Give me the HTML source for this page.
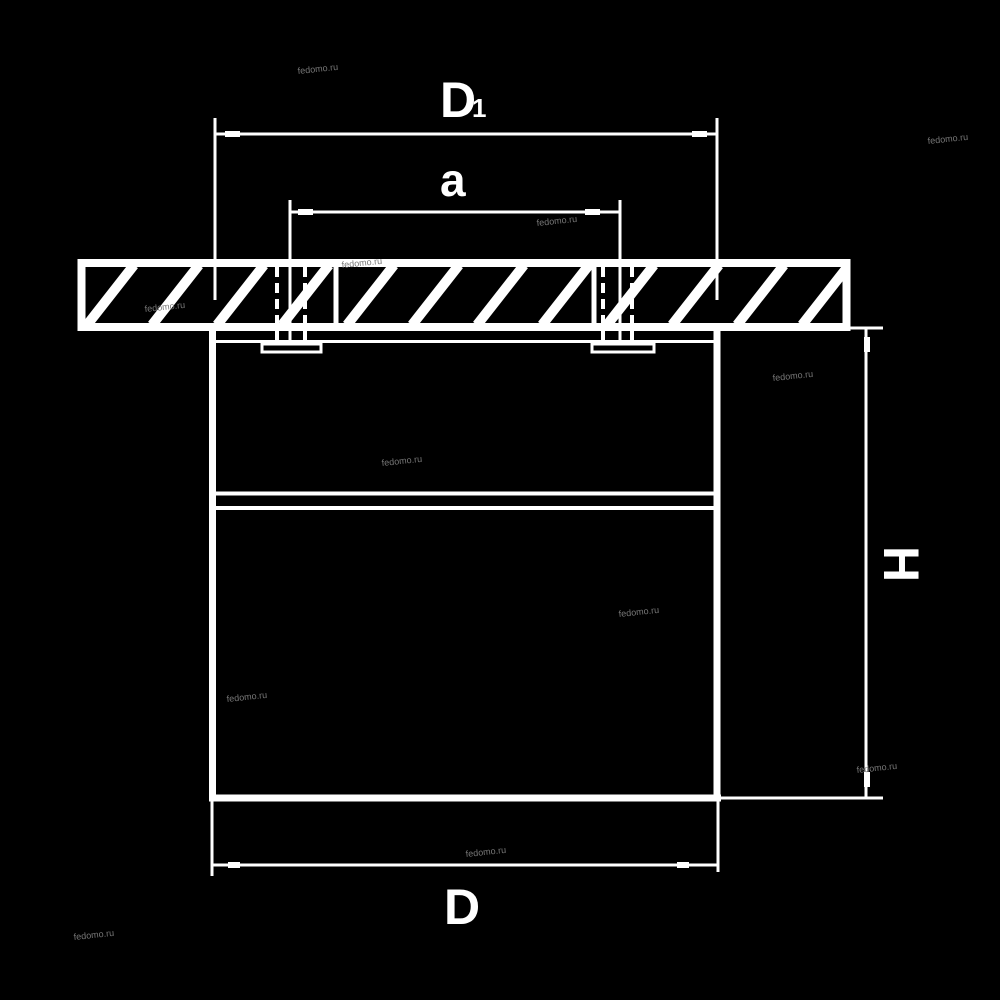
<!DOCTYPE html>
<html><head><meta charset="utf-8"><style>html,body{margin:0;padding:0;background:#000}svg{display:block}</style></head><body>
<svg width="1000" height="1000" viewBox="0 0 1000 1000" xmlns="http://www.w3.org/2000/svg">
<rect width="1000" height="1000" fill="#000"/>
<defs><clipPath id="pl"><rect x="85" y="267" width="758" height="56"/></clipPath></defs>
<g stroke="#fff" fill="none">
<rect x="81.5" y="263" width="765" height="64" stroke-width="8"/>
<g clip-path="url(#pl)" stroke-width="10">
<line x1="87" y1="325" x2="134" y2="265"/><line x1="152" y1="325" x2="199" y2="265"/>
<line x1="217" y1="325" x2="264" y2="265"/><line x1="282" y1="325" x2="329" y2="265"/>
<line x1="347" y1="325" x2="394" y2="265"/><line x1="412" y1="325" x2="459" y2="265"/>
<line x1="477" y1="325" x2="524" y2="265"/><line x1="542" y1="325" x2="589" y2="265"/>
<line x1="607" y1="325" x2="654" y2="265"/><line x1="672" y1="325" x2="719" y2="265"/>
<line x1="737" y1="325" x2="784" y2="265"/><line x1="802" y1="325" x2="849" y2="265"/>
</g>
<line x1="336" y1="267" x2="336" y2="323" stroke-width="5"/>
<line x1="594" y1="267" x2="594" y2="323" stroke-width="5"/>
<g stroke-width="4" stroke-dasharray="10,6">
<line x1="277" y1="267" x2="277" y2="345"/><line x1="305" y1="267" x2="305" y2="345"/>
<line x1="603" y1="267" x2="603" y2="345"/><line x1="632" y1="267" x2="632" y2="345"/>
</g>
<rect x="262" y="344" width="59" height="8" stroke-width="3"/>
<rect x="592" y="344" width="62" height="8" stroke-width="3"/>
<line x1="212.5" y1="330" x2="212.5" y2="800" stroke-width="7"/>
<line x1="717" y1="330" x2="717" y2="800" stroke-width="7"/>
<line x1="209" y1="798" x2="721" y2="798" stroke-width="7"/>
<line x1="216" y1="341.5" x2="714" y2="341.5" stroke-width="3"/>
<line x1="216" y1="493.5" x2="714" y2="493.5" stroke-width="4"/>
<line x1="216" y1="508" x2="714" y2="508" stroke-width="4"/>
<g stroke-width="3">
<line x1="215" y1="118" x2="215" y2="300"/><line x1="717" y1="118" x2="717" y2="300"/>
<line x1="215" y1="134" x2="717" y2="134"/>
<line x1="290" y1="200" x2="290" y2="340"/><line x1="620" y1="200" x2="620" y2="345"/>
<line x1="290" y1="212" x2="620" y2="212"/>
<line x1="212" y1="800" x2="212" y2="876"/><line x1="718" y1="800" x2="718" y2="872"/>
<line x1="212" y1="865" x2="718" y2="865"/>
<line x1="866" y1="328" x2="866" y2="798"/>
<line x1="850" y1="328" x2="883" y2="328"/><line x1="720" y1="798" x2="883" y2="798"/>
</g>
<g stroke-width="6">
<line x1="225" y1="134" x2="240" y2="134"/><line x1="692" y1="134" x2="707" y2="134"/>
<line x1="298" y1="212" x2="313" y2="212"/><line x1="585" y1="212" x2="600" y2="212"/>
<line x1="228" y1="865" x2="240" y2="865"/><line x1="677" y1="865" x2="689" y2="865"/>
<line x1="867" y1="337" x2="867" y2="352"/><line x1="867" y1="772" x2="867" y2="787"/>
</g>
</g>
<g fill="#fff" font-family="Liberation Sans, sans-serif" font-weight="bold">
<text x="440" y="117" font-size="50">D</text>
<text x="472" y="117" font-size="26">1</text>
<text x="440" y="196" font-size="46">a</text>
<text x="444" y="924" font-size="50">D</text>
<text x="0" y="0" font-size="50" transform="translate(884,546) rotate(90)">H</text>
</g>
<g fill="#777" font-family="Liberation Sans, sans-serif" font-size="9">
<text x="298" y="74" transform="rotate(-6 298 74)">fedomo.ru</text>
<text x="928" y="144" transform="rotate(-6 928 144)">fedomo.ru</text>
<text x="537" y="226" transform="rotate(-6 537 226)">fedomo.ru</text>
<text x="342" y="268" transform="rotate(-6 342 268)">fedomo.ru</text>
<text x="145" y="312" transform="rotate(-6 145 312)">fedomo.ru</text>
<text x="773" y="381" transform="rotate(-6 773 381)">fedomo.ru</text>
<text x="382" y="466" transform="rotate(-6 382 466)">fedomo.ru</text>
<text x="619" y="617" transform="rotate(-6 619 617)">fedomo.ru</text>
<text x="227" y="702" transform="rotate(-6 227 702)">fedomo.ru</text>
<text x="857" y="773" transform="rotate(-6 857 773)">fedomo.ru</text>
<text x="466" y="857" transform="rotate(-6 466 857)">fedomo.ru</text>
<text x="74" y="940" transform="rotate(-6 74 940)">fedomo.ru</text>
</g>
</svg>
</body></html>
